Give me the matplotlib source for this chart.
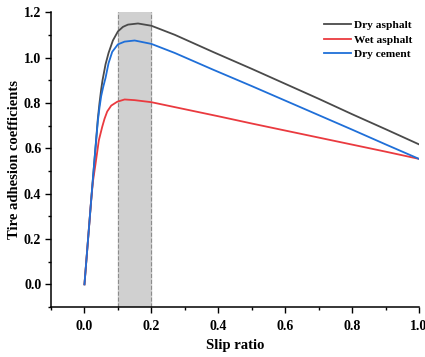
import numpy as np
import matplotlib.pyplot as plt
from matplotlib.ticker import MultipleLocator

plt.rcParams['font.family'] = ['Liberation Serif', 'DejaVu Serif']
plt.rcParams['font.weight'] = 'bold'

# values
slip_dry = [0.0, 0.02, 0.03, 0.04, 0.045, 0.05, 0.054, 0.063, 0.072, 0.085, 0.10, 0.115, 0.13,
            0.16, 0.20, 0.27, 0.385, 0.5, 0.6, 0.7, 0.8, 0.9, 1.0]
dry_asphalt = [0.0, 0.37, 0.55, 0.73, 0.80, 0.86, 0.90, 0.97, 1.02, 1.075, 1.115, 1.135, 1.145,
               1.15, 1.14, 1.10, 1.024, 0.95, 0.884, 0.818, 0.75, 0.684, 0.617]

slip_cem = [0.0, 0.02, 0.03, 0.04, 0.045, 0.05, 0.056, 0.063, 0.072, 0.083, 0.10, 0.12, 0.15,
            0.20, 0.27, 0.385, 0.5, 0.6, 0.7, 0.8, 0.9, 1.0]
dry_cement = [0.0, 0.37, 0.55, 0.72, 0.78, 0.83, 0.87, 0.91, 0.975, 1.025, 1.058, 1.07, 1.075,
              1.06, 1.02, 0.946, 0.874, 0.81, 0.746, 0.682, 0.617, 0.553]

slip_wet = [0.0, 0.02, 0.025, 0.033, 0.043, 0.053, 0.06, 0.068, 0.08, 0.098, 0.12, 0.15, 0.20,
            0.3, 0.4, 0.5, 0.6, 0.7, 0.8, 0.9, 1.0]
wet_asphalt = [0.0, 0.37, 0.45, 0.53, 0.635, 0.694, 0.73, 0.762, 0.788, 0.805, 0.815, 0.812, 0.803,
               0.772, 0.741, 0.709, 0.678, 0.647, 0.616, 0.585, 0.553]

fig = plt.figure(figsize=(4.25, 3.57), dpi=100)
ax = fig.add_axes([0.12, 0.14, 0.866, 0.826])

# shaded optimal slip band
ax.axvspan(0.1, 0.2, color='#d0d0d0', zorder=0)
ax.axvline(0.1, color='#8c8c8c', ls='--', lw=0.8, zorder=1)
ax.axvline(0.2, color='#8c8c8c', ls='--', lw=0.8, zorder=1)

ax.plot(slip_dry, dry_asphalt, color='#4a4a4a', lw=1.3, label='Dry asphalt')
ax.plot(slip_wet, wet_asphalt, color='#ea3a3f', lw=1.3, label='Wet asphalt')
ax.plot(slip_cem, dry_cement, color='#1f6fd8', lw=1.3, label='Dry cement')

ax.set_xlim(-0.1, 1.0)
ax.set_ylim(-0.1, 1.2)
ax.xaxis.set_minor_locator(MultipleLocator(0.1))
ax.yaxis.set_minor_locator(MultipleLocator(0.1))
ax.set_xticks([0.0, 0.2, 0.4, 0.6, 0.8, 1.0])
ax.set_yticks([0.0, 0.2, 0.4, 0.6, 0.8, 1.0, 1.2])
ax.set_xticklabels(['0.0', '0.2', '0.4', '0.6', '0.8', '1.0'])
ax.set_yticklabels(['0.0', '0.2', '0.4', '0.6', '0.8', '1.0', '1.2'])
ax.tick_params(which='major', direction='out', length=4, width=1, labelsize=10)
ax.tick_params(axis='y', which='major', pad=3)
ax.tick_params(axis='x', which='major', pad=5)
ax.tick_params(which='minor', direction='out', length=2.5, width=1)

for side in ['top', 'right']:
    ax.spines[side].set_visible(False)
for side in ['left', 'bottom']:
    ax.spines[side].set_linewidth(1.1)

ax.set_xlabel('Slip ratio', fontsize=10.5, fontweight='bold', labelpad=5)
ax.set_ylabel('Tire adhesion coefficients', fontsize=10.5, fontweight='bold', labelpad=2)

ax.legend(loc='upper right', bbox_to_anchor=(1.01, 1.008), frameon=False,
          handlelength=2.3, handletextpad=0.3, labelspacing=0.4,
          prop={'weight': 'bold', 'size': 8.2})

fig.savefig('out.png', dpi=100)
